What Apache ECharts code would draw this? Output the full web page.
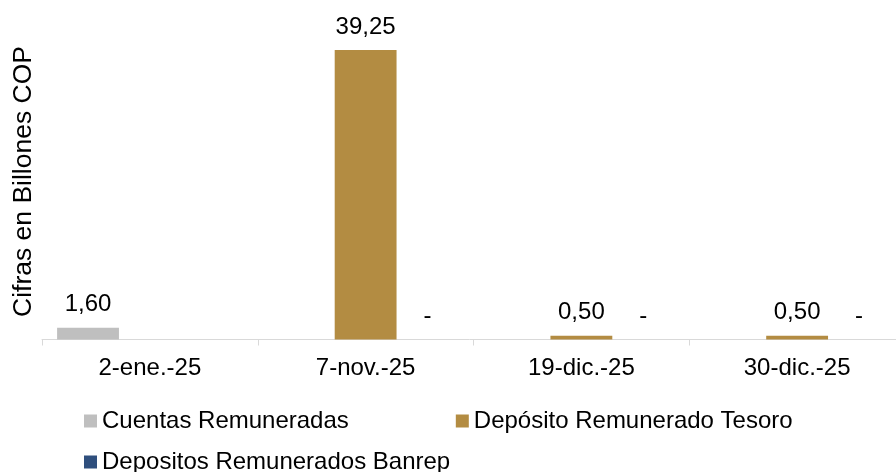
<!DOCTYPE html>
<html>
<head>
<meta charset="utf-8">
<script src="https://cdn.jsdelivr.net/npm/echarts@6/dist/echarts.min.js"></script>
<style>html,body{margin:0;padding:0;background:#fff}#c{width:896px;height:472px}</style>
</head>
<body>
<div id="c"></div>
<script>
const categories = ['2-ene.-25', '7-nov.-25', '19-dic.-25', '30-dic.-25'];
const cuentasRemuneradas = [1.60, null, null, null];
const depositoTesoro = [null, 39.25, 0.50, 0.50];
const depositosBanrep = [null, 0, 0, 0];
const seriesNames = ['Cuentas Remuneradas', 'Depósito Remunerado Tesoro', 'Depositos Remunerados Banrep'];
const yTitle = 'Cifras en Billones COP';

const FONT = '"Liberation Sans", Arial, sans-serif';
const FS = 24;
const chart = echarts.init(document.getElementById('c'), null, {renderer: 'canvas'});
const labelFmt = p => (p.value === 0 ? '-' : p.value.toFixed(2).replace('.', ','));
const mkLabel = () => ({show: true, position: 'top', distance: 11, color: '#000', fontFamily: FONT, fontSize: FS, formatter: labelFmt});
const colors = ['#bfbfbf', '#b38c42', '#2f4f7d'];
const data = [cuentasRemuneradas, depositoTesoro, depositosBanrep];

chart.setOption({
  animation: false,
  backgroundColor: '#fff',
  grid: {left: 42, width: 863, top: 44.5, height: 295, containLabel: false, outerBoundsMode: 'none'},
  xAxis: {
    type: 'category', data: categories,
    axisLine: {lineStyle: {color: '#d9d9d9', width: 1}},
    axisTick: {show: true, length: 6, lineStyle: {color: '#d9d9d9'}},
    axisLabel: {color: '#000', fontFamily: FONT, fontSize: FS, margin: 17}
  },
  yAxis: {
    type: 'value', min: 0, max: 40,
    axisLine: {show: false}, axisTick: {show: false}, axisLabel: {show: false}, splitLine: {show: false}
  },
  legend: [
    {data: [seriesNames[0], seriesNames[1]], left: 84, top: 409, padding: 0, itemWidth: 13, itemHeight: 13, itemGap: 107, icon: 'rect',
     textStyle: {color: '#000', fontFamily: FONT, fontSize: FS}},
    {data: [seriesNames[2]], left: 84, top: 450, padding: 0, itemWidth: 13, itemHeight: 13, icon: 'rect',
     textStyle: {color: '#000', fontFamily: FONT, fontSize: FS}}
  ],
  graphic: [{
    type: 'text', x: 24, y: 181.5, rotation: Math.PI / 2,
    style: {text: yTitle, fill: '#000', font: '26.5px "Liberation Sans", Arial, sans-serif', align: 'center', verticalAlign: 'middle'}
  }],
  series: seriesNames.map((n, i) => ({
    name: n, type: 'bar', data: data[i], barGap: '0%', barCategoryGap: '14%',
    itemStyle: {color: colors[i]}, label: mkLabel()
  }))
});
</script>
</body>
</html>
